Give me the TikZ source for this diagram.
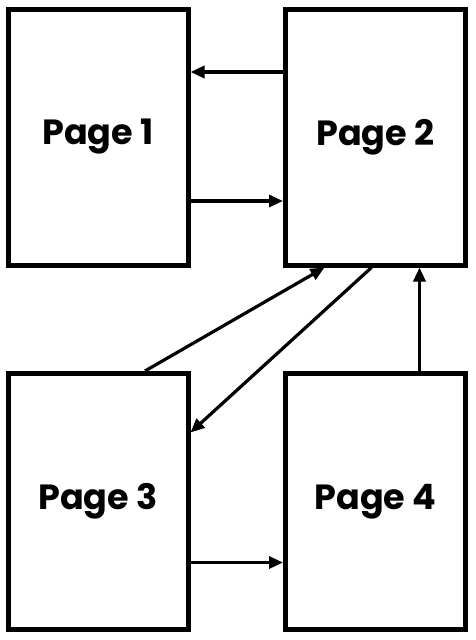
\documentclass[tikz,border=0pt]{standalone}
\usepackage{fontspec}
\setmainfont{Poppins}
\usetikzlibrary{positioning,arrows.meta,calc}

\begin{document}
\begin{tikzpicture}[x=1pt,y=-1pt,
  page/.style={draw, line width=5pt, minimum width=180pt, minimum height=256pt,
    inner sep=0pt, font=\fontsize{35}{38}\selectfont\bfseries},
  link/.style={line width=3.2pt, -{Triangle[length=14pt,width=12pt]}},
  node distance=103.5pt and 92.5pt]
\useasboundingbox (0,0) rectangle (476,640);

\node[page] (p1) at (98,137) {Page 1};
\node[page, right=of p1] (p2) {Page 2};
\node[page, below=of p1] (p3) {Page 3};
\node[page, below=of p2] (p4) {Page 4};

% top row
\draw[link] ([yshift=65pt]p2.west) -- ([yshift=65pt]p1.east);
\draw[link] ([yshift=-64pt]p1.east) -- ([yshift=-64pt]p2.west);

% between the rows
\draw[link] ([xshift=47pt]p3.north) -- ([xshift=-51pt]p2.south);
\draw[link] ([xshift=-4pt]p2.south) -- ([yshift=69pt]p3.east);
\draw[link] ([xshift=44pt]p4.north) -- ([xshift=44pt]p2.south);

% bottom row
\draw[link] ([yshift=-61pt]p3.east) -- ([yshift=-61pt]p4.west);

\end{tikzpicture}
\end{document}
